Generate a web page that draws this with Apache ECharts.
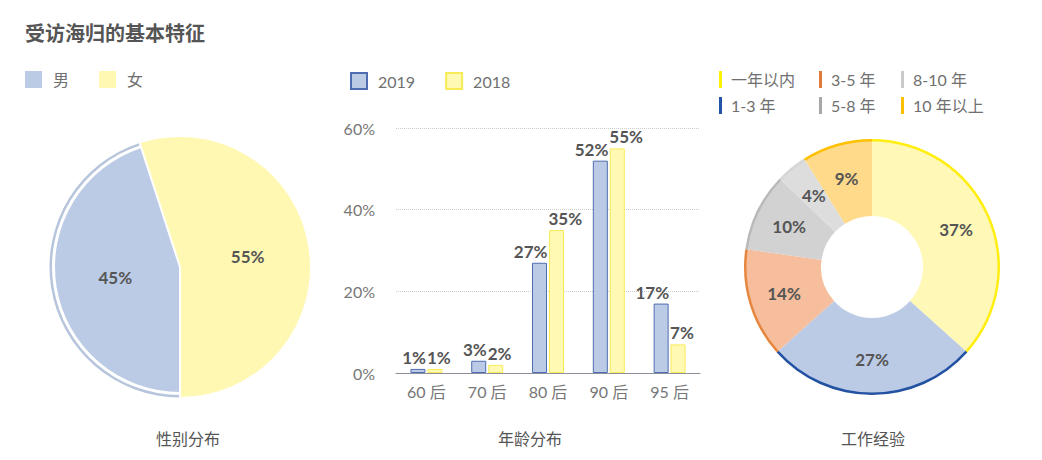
<!DOCTYPE html>
<html>
<head>
<meta charset="utf-8">
<script src="https://cdn.jsdelivr.net/npm/echarts@6/dist/echarts.min.js"></script>
<style>
html,body{margin:0;padding:0;background:#fff;}
#chart{width:1042px;height:460px;}
</style>
</head>
<body>
<div id="chart"></div>
<script>
// ---- data ----
const chartTitle = '受访海归的基本特征';
const panelTitles = ['性别分布', '年龄分布', '工作经验'];

const genderNames = ['男', '女'];
const genderValues = [45, 55];

const ageCategories = ['60 后', '70 后', '80 后', '90 后', '95 后'];
const ageSeriesNames = ['2019', '2018'];
const age2019 = [1, 3, 27, 52, 17];
const age2018 = [1, 2, 35, 55, 7];

const expNames = ['一年以内', '1-3 年', '3-5 年', '5-8 年', '8-10 年', '10 年以上'];
const expValues = [37, 27, 14, 10, 4, 9];

// ---- styles ----
const FONT = 'Lato, "Noto Sans CJK SC", "Noto Sans", sans-serif';
const genderColors = ['#BCCBE5', '#FFF8B3'];
const genderRadii = [125, 131];
const genderRing = '#B7C5DC';
const barFill = ['#BCCBE5', '#FFF9B4'];
const barBorder = ['#4E6DB0', '#F7EC55'];
const expFill = ['#FFF8B6', '#BCCBE5', '#F6BE9C', '#D2D2D2', '#DDDDDD', '#FFDA8A'];
const expEdge = ['#FFEE10', '#2352A2', '#E6873F', '#B9B9B9', '#D6D6D6', '#FFC000'];
const expLegendColors = ['#FFF200', '#2255A5', '#E07B39', '#A8A8A8', '#CACACA', '#FFC000'];

const TRANSPARENT = 'rgba(0,0,0,0)';
const valueLabel = {
  fontFamily: FONT, fontSize: 17, fontWeight: 'bold', color: '#555'
};

// gender pie: one layer per slice so each slice keeps its own radius
const genderSeries = genderNames.map((_, k) => ({
  type: 'pie',
  center: [180, 267],
  radius: [0, genderRadii[k]],
  startAngle: 270,
  clockwise: true,
  silent: true,
  z: 2 + k,
  labelLine: { show: false },
  data: genderNames.map((n, i) => ({
    name: n,
    value: genderValues[i],
    itemStyle: i === k
      ? { color: genderColors[i], borderColor: '#fff', borderWidth: k === 1 ? 2 : 0 }
      : { color: TRANSPARENT, borderWidth: 0 },
    label: i === k
      ? Object.assign({ show: true, position: 'inside', formatter: '{c}%' }, valueLabel)
      : { show: false }
  }))
}));
genderSeries.push({
  type: 'pie',
  center: [180, 267],
  radius: [128, 130.5],
  startAngle: 270,
  clockwise: true,
  silent: true,
  z: 1,
  label: { show: false },
  labelLine: { show: false },
  data: genderNames.map((n, i) => ({
    name: n, value: genderValues[i],
    itemStyle: { color: i === 0 ? genderRing : TRANSPARENT }
  }))
});

const ageValues = [age2019, age2018];
const barSeries = ageSeriesNames.map((name, k) => ({
  name: name,
  type: 'bar',
  xAxisIndex: 0,
  yAxisIndex: 0,
  barWidth: 15,
  barGap: '13%',
  data: ageValues[k],
  itemStyle: { color: barFill[k], borderColor: barBorder[k], borderWidth: 1 },
  label: Object.assign({
    show: true,
    position: 'top',
    distance: 3,
    align: k === 0 ? 'right' : 'left',
    offset: [k === 0 ? 8 : -8, 0],
    formatter: '{c}%'
  }, valueLabel)
}));

const expSeries = [{
  type: 'pie',
  center: [872, 267],
  radius: [51, 127],
  startAngle: 90,
  clockwise: true,
  silent: true,
  z: 3,
  labelLine: { show: false },
  label: Object.assign({ show: true, position: 'inside', formatter: '{c}%' }, valueLabel),
  data: expNames.map((n, i) => ({ name: n, value: expValues[i], itemStyle: { color: expFill[i] } }))
}, {
  type: 'pie',
  center: [872, 267],
  radius: [125.5, 128],
  startAngle: 90,
  clockwise: true,
  silent: true,
  z: 4,
  label: { show: false },
  labelLine: { show: false },
  data: expNames.map((n, i) => ({ name: n, value: expValues[i], itemStyle: { color: expEdge[i] } }))
}];

const legendText = { fontFamily: FONT, fontSize: 16, color: '#707070', padding: [0, 0, 0, 6] };
const expCols = [[0, 1], [2, 3], [4, 5]];
const expColLeft = [719, 819, 901];
const expLegends = expCols.map((col, c) => ({
  orient: 'vertical',
  left: expColLeft[c],
  top: 71,
  padding: 0,
  icon: 'rect',
  itemWidth: 3,
  itemHeight: 17,
  itemGap: 9,
  selectedMode: false,
  textStyle: Object.assign({}, legendText, { padding: [0, 0, 0, 4] }),
  data: col.map(i => ({ name: expNames[i], itemStyle: { color: expLegendColors[i], borderWidth: 0 } }))
}));

const option = {
  animation: false,
  backgroundColor: '#fff',
  title: {
    text: chartTitle,
    left: 20,
    top: 18,
    textStyle: { fontFamily: FONT, fontSize: 20, fontWeight: 'bold', color: '#555' }
  },
  legend: [{
    left: 25,
    top: 71,
    padding: 0,
    icon: 'rect',
    itemWidth: 17,
    itemHeight: 17,
    itemGap: 30,
    selectedMode: false,
    textStyle: legendText,
    data: genderNames.map((n, i) => ({ name: n, itemStyle: { color: genderColors[i], borderWidth: 0 } }))
  }, {
    left: 350,
    top: 72,
    padding: 0,
    icon: 'rect',
    itemWidth: 16,
    itemHeight: 16,
    itemGap: 30,
    selectedMode: false,
    textStyle: legendText,
    data: ageSeriesNames
  }].concat(expLegends),
  grid: { left: 396, right: 342, top: 128, bottom: 87, containLabel: false },
  xAxis: {
    type: 'category',
    data: ageCategories,
    axisLine: { lineStyle: { color: '#8C8F9E', width: 1 } },
    axisTick: { show: false },
    axisLabel: { fontFamily: FONT, fontSize: 16, color: '#777', margin: 10 }
  },
  yAxis: {
    type: 'value',
    min: 0,
    max: 60,
    interval: 20,
    axisLine: { show: false },
    axisTick: { show: false },
    axisLabel: { fontFamily: FONT, fontSize: 16, color: '#777', formatter: '{value}%', margin: 21 },
    splitLine: { lineStyle: { color: '#CCCCCC', type: 'dotted' } }
  },
  graphic: panelTitles.map((t, i) => ({
    type: 'text',
    x: [188, 530, 873][i],
    y: 438,
    style: { text: t, font: '16px ' + FONT, fill: '#555', align: 'center', verticalAlign: 'middle' }
  })),
  series: genderSeries.concat(barSeries, expSeries)
};

const chart = echarts.init(document.getElementById('chart'), null, { renderer: 'svg' });
chart.setOption(option);
</script>
</body>
</html>
